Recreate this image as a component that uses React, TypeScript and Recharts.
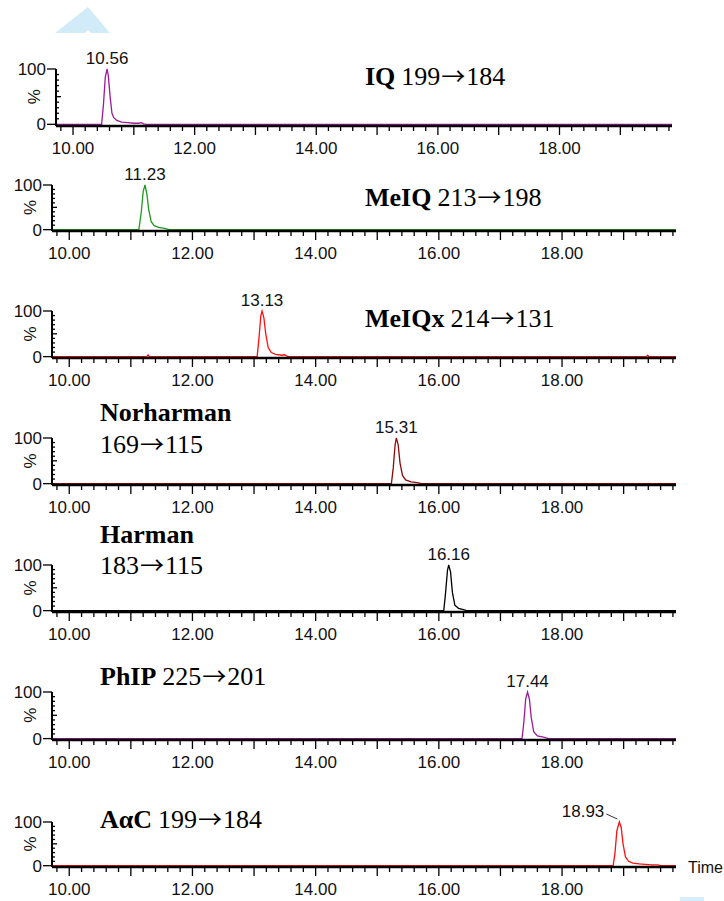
import { LineChart, Line, XAxis, YAxis } from "recharts";

// Chromatogram traces (retention time in min, relative intensity in %)
const IQ_T = [9.72, 10.47, 10.5, 10.53, 10.56, 10.58, 10.61, 10.64, 10.67, 10.72, 10.8, 10.9, 11.0, 11.08, 11.12, 11.16, 11.2, 19.85];
const IQ_V = [0, 0, 35, 85, 100, 88, 50, 20, 12, 7, 4, 3, 2, 2, 3, 1, 0, 0];

const MEIQ_T = [9.72, 11.13, 11.17, 11.2, 11.23, 11.26, 11.29, 11.33, 11.38, 11.45, 11.55, 11.62, 19.85];
const MEIQ_V = [0, 0, 40, 85, 100, 80, 45, 18, 9, 5, 3, 0, 0];

const MEIQX_T = [9.72, 11.26, 11.28, 11.3, 13.05, 13.08, 13.11, 13.13, 13.16, 13.19, 13.23, 13.28, 13.35, 13.45, 13.5, 13.53, 13.56, 19.37, 19.39, 19.41, 19.85];
const MEIQX_V = [0, 0, 4, 0, 0, 40, 90, 100, 85, 50, 20, 9, 5, 3, 4, 1, 0, 0, 3, 0, 0];

const NORH_T = [9.72, 15.23, 15.26, 15.29, 15.31, 15.34, 15.37, 15.41, 15.46, 15.55, 15.65, 15.72, 19.85];
const NORH_V = [0, 0, 35, 85, 100, 85, 45, 18, 8, 4, 2, 0, 0];

const HARM_T = [9.72, 16.08, 16.11, 16.14, 16.16, 16.19, 16.22, 16.26, 16.32, 16.4, 16.45, 19.85];
const HARM_V = [0, 0, 40, 88, 100, 85, 40, 12, 5, 2, 0, 0];

const PHIP_T = [9.72, 17.35, 17.38, 17.41, 17.44, 17.47, 17.5, 17.54, 17.6, 17.7, 17.78, 19.85];
const PHIP_V = [0, 0, 35, 85, 100, 85, 45, 15, 6, 3, 0, 0];

const AAC_T = [9.72, 18.83, 18.86, 18.89, 18.93, 18.96, 18.99, 19.03, 19.08, 19.15, 19.25, 19.35, 19.45, 19.55, 19.6, 19.85];
const AAC_V = [0, 0, 30, 80, 100, 88, 50, 20, 10, 6, 4, 3, 2, 2, 0, 0];

const TIMES = [IQ_T, MEIQ_T, MEIQX_T, NORH_T, HARM_T, PHIP_T, AAC_T];
const VALUES = [IQ_V, MEIQ_V, MEIQX_V, NORH_V, HARM_V, PHIP_V, AAC_V];

const PEAK_LABELS = ["10.56", "11.23", "13.13", "15.31", "16.16", "17.44", "18.93"];
const COMPOUNDS = ["IQ", "MeIQ", "MeIQx", "Norharman", "Harman", "PhIP", "AαC"];
const PRECURSORS = ["199", "213", "214", "169", "183", "225", "199"];
const PRODUCTS = ["184", "198", "131", "115", "115", "201", "184"];
const COLORS = ["#9a1a9a", "#1f9a1f", "#ff1010", "#8b0a0a", "#000000", "#9a1a9a", "#ff1010"];

const X_DOMAIN = [9.72, 19.85];
const X_TICKS = [
  9.8, 10, 10.2, 10.4, 10.6, 10.8, 11, 11.2, 11.4, 11.6, 11.8, 12, 12.2, 12.4, 12.6, 12.8,
  13, 13.2, 13.4, 13.6, 13.8, 14, 14.2, 14.4, 14.6, 14.8, 15, 15.2, 15.4, 15.6, 15.8, 16,
  16.2, 16.4, 16.6, 16.8, 17, 17.2, 17.4, 17.6, 17.8, 18, 18.2, 18.4, 18.6, 18.8, 19, 19.2,
  19.4, 19.6, 19.8,
];
const X_LABELS = [10, 12, 14, 16, 18];
const Y_TICKS = [0, 10, 20, 30, 40, 50, 60, 70, 80, 90, 100];

// pixel layout of each panel: plot top (100 %), plot bottom (0 %), axis left/right, title position
const LAYOUT = [
  { top: 69, bottom: 126, left: 56, right: 672, tx: 365, ty: 85, ty2: 0 },
  { top: 185, bottom: 231, left: 52, right: 676, tx: 365, ty: 206, ty2: 0 },
  { top: 311, bottom: 358, left: 52, right: 676, tx: 365, ty: 327, ty2: 0 },
  { top: 438, bottom: 485, left: 52, right: 676, tx: 100, ty: 421, ty2: 453 },
  { top: 565, bottom: 612, left: 52, right: 676, tx: 100, ty: 543, ty2: 574 },
  { top: 692, bottom: 740, left: 52, right: 676, tx: 100, ty: 685, ty2: 0 },
  { top: 822, bottom: 867, left: 52, right: 676, tx: 100, ty: 828, ty2: 0 },
];

const SANS = '"Liberation Sans", Arial, sans-serif';
const SERIF = '"Liberation Serif", "Times New Roman", serif';
const ARROW_FONT = '"Noto Sans CJK JP", "DejaVu Sans", sans-serif';
const INK = "#111";
const FS = 17;

function XTick({ x, y, payload }: any) {
  const v = payload.value;
  const major = Number.isInteger(v);
  return (
    <g>
      <line x1={x} x2={x} y1={y} y2={y + (major ? 9 : 5)} stroke="#000" strokeWidth={1.3} />
      {X_LABELS.includes(v) && (
        <text x={x} y={y + 28} textAnchor="middle" fontSize={FS} fontFamily={SANS} fill={INK}>
          {v.toFixed(2)}
        </text>
      )}
    </g>
  );
}

function YTick({ x, y, payload }: any) {
  const v = payload.value;
  if (v === 0 || v === 100) {
    return (
      <g>
        <line x1={x - 9} x2={x} y1={y} y2={y} stroke="#000" strokeWidth={1.3} />
        <text x={x - 10} y={y} dy="0.36em" textAnchor="end" fontSize={FS} fontFamily={SANS} fill={INK}>
          {v}
        </text>
      </g>
    );
  }
  return (
    <g>
      <line x1={x} x2={x + (v === 50 ? 5 : 3)} y1={y} y2={y} stroke="#000" strokeWidth={1.3} />
      {v === 50 && (
        <text
          x={x - 22}
          y={y}
          dy="0.36em"
          textAnchor="middle"
          fontSize={FS}
          fontFamily={SANS}
          fill={INK}
          transform={`rotate(-90 ${x - 22} ${y})`}
        >
          %
        </text>
      )}
    </g>
  );
}

const peakDot = (i: number) => (p: any) => {
  const v = p.payload ? p.payload.v : p.value;
  if (v !== 100) return <g key={p.index} />;
  const label = PEAK_LABELS[i];
  if (i === 6) {
    // last peak has its label pushed aside with a small leader line
    return (
      <g key={p.index}>
        <line x1={p.cx - 13} y1={p.cy - 8} x2={p.cx - 2} y2={p.cy - 3} stroke="#333" strokeWidth={1} />
        <text x={p.cx - 15} y={p.cy - 5} textAnchor="end" fontSize={FS} fontFamily={SANS} fill={INK}>
          {label}
        </text>
      </g>
    );
  }
  return (
    <text key={p.index} x={p.cx} y={p.cy - 5} textAnchor="middle" fontSize={FS} fontFamily={SANS} fill={INK}>
      {label}
    </text>
  );
};

function Trace({ i }: { i: number }) {
  const L = LAYOUT[i];
  const data = TIMES[i].map((t, k) => ({ t, v: VALUES[i][k] }));
  const mt = 30;
  const mb = 36;
  const h = mt + (L.bottom - L.top) + mb;
  return (
    <div style={{ position: "absolute", left: 0, top: L.top - mt }}>
      <LineChart width={724} height={h} data={data} margin={{ top: mt, right: 724 - L.right, bottom: 0, left: 0 }}>
        <XAxis
          dataKey="t"
          type="number"
          domain={X_DOMAIN}
          ticks={X_TICKS}
          interval={0}
          tickSize={0}
          tickMargin={0}
          height={mb}
          axisLine={{ stroke: "#000", strokeWidth: 2.5 }}
          tick={<XTick />}
        />
        <YAxis
          type="number"
          domain={[-3, 100]}
          ticks={Y_TICKS}
          interval={0}
          width={L.left}
          tickSize={0}
          tickMargin={0}
          axisLine={{ stroke: "#000", strokeWidth: 2 }}
          tick={<YTick />}
        />
        <Line
          type="linear"
          dataKey="v"
          stroke={COLORS[i]}
          strokeWidth={1.3}
          dot={peakDot(i)}
          activeDot={false}
          isAnimationActive={false}
        />
      </LineChart>
    </div>
  );
}

function Transition({ i }: { i: number }) {
  return (
    <>
      {PRECURSORS[i]}
      <tspan fontFamily={ARROW_FONT} fontSize={24} dx={1}>→</tspan>
      <tspan dx={1}>{PRODUCTS[i]}</tspan>
    </>
  );
}

export default function App() {
  return (
    <div style={{ position: "absolute", left: 0, top: 0, width: 724, height: 901, background: "#fff", overflow: "hidden" }}>
      {COMPOUNDS.map((_, i) => (
        <Trace key={i} i={i} />
      ))}
      <svg width={724} height={901} style={{ position: "absolute", left: 0, top: 0, pointerEvents: "none" }}>
        <polygon points="55,33 88,7 110,33 91,33 88,30 85,33" fill="#d2ebf8" />
        <rect x={680} y={897} width={24} height={4} fill="#d8eefa" />
        {COMPOUNDS.map((c, i) => {
          const L = LAYOUT[i];
          if (L.ty2) {
            return (
              <g key={c} fontFamily={SERIF} fontSize={26} fill="#000">
                <text x={L.tx} y={L.ty} fontWeight="bold">{c}</text>
                <text x={L.tx} y={L.ty2}>
                  <Transition i={i} />
                </text>
              </g>
            );
          }
          return (
            <text key={c} x={L.tx} y={L.ty} fontFamily={SERIF} fontSize={26} fill="#000">
              <tspan fontWeight="bold">{c}</tspan>
              <tspan dx={6}>
                <Transition i={i} />
              </tspan>
            </text>
          );
        })}
        <text x={688} y={873} fontSize={16} fontFamily={SANS} fill={INK}>
          Time
        </text>
      </svg>
    </div>
  );
}
